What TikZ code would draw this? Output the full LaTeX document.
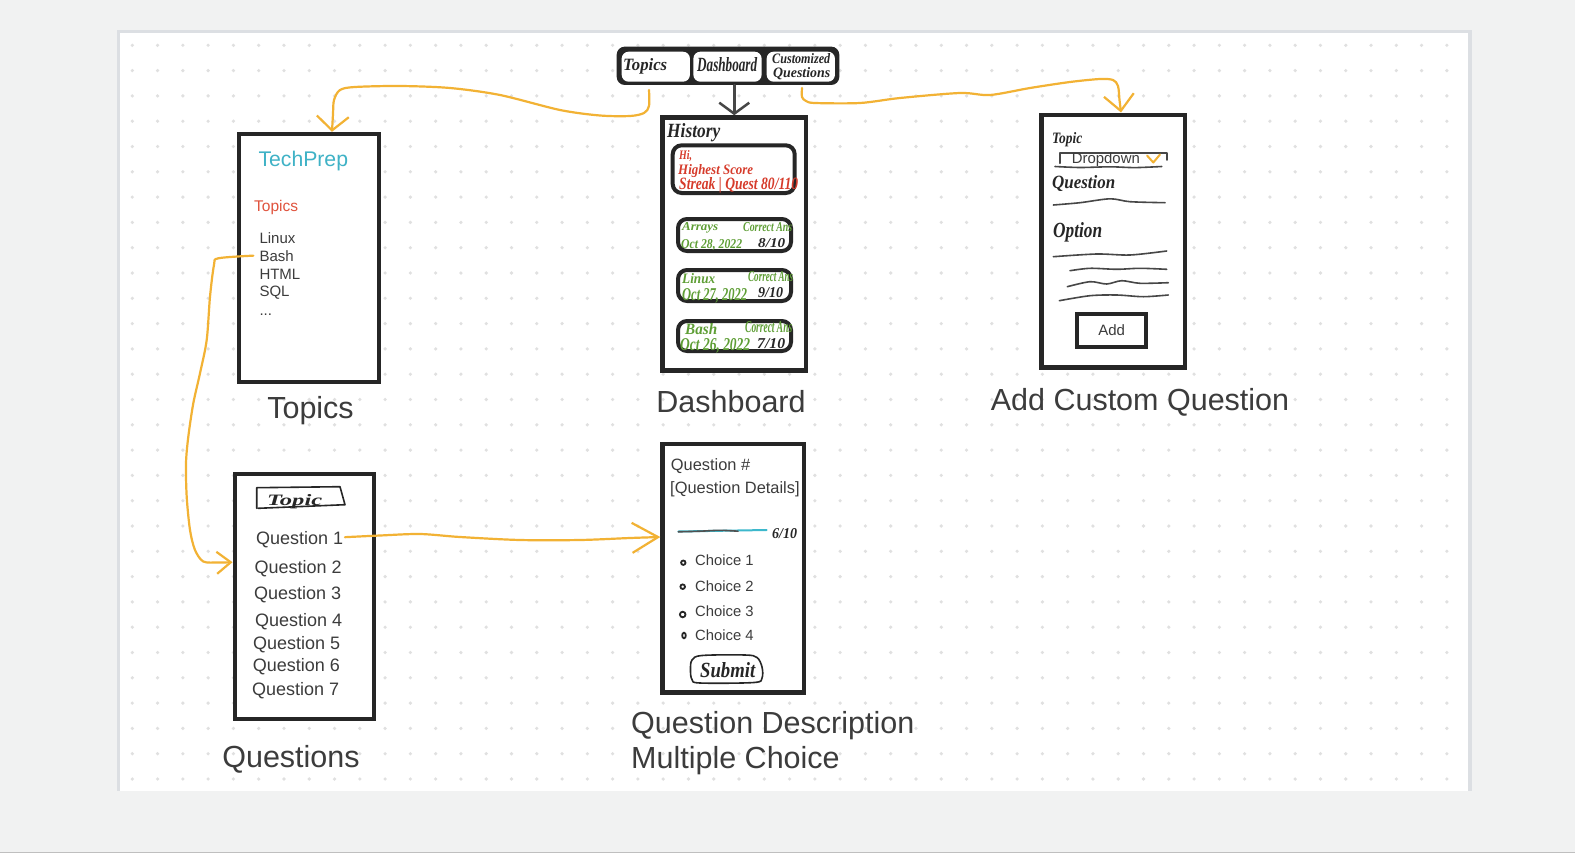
\documentclass[tikz,border=0pt]{standalone}
\usepackage{fontspec}
\usepackage{graphicx}
\setmainfont{Liberation Sans}
\newfontfamily\handfont{Liberation Serif}
\usetikzlibrary{arrows.meta,calc}

\definecolor{canvas}{HTML}{F1F2F2}
\definecolor{boardedge}{HTML}{DCDFE3}
\definecolor{griddot}{HTML}{E0E0E0}
\definecolor{ink}{HTML}{262626}
\definecolor{txt}{HTML}{3C3C3C}
\definecolor{flow}{RGB}{242,178,52}
\definecolor{brand}{HTML}{3FB2C6}
\definecolor{accent}{HTML}{E0533D}
\definecolor{penred}{HTML}{D63B2B}
\definecolor{pengreen}{HTML}{5E9E35}
\definecolor{penteal}{HTML}{3DB8CC}

% hand lettering squeezed into a given width and cap height
\newcommand\hw[3]{\resizebox{#1bp}{#2bp}{#3}}

\begin{document}
\begin{tikzpicture}[x=1bp,y=-1bp,
  screen/.style={draw=ink,line width=4.5bp,fill=white,inner sep=0pt},
  caption/.style={font=\fontsize{30.5bp}{36bp}\selectfont,text=txt,inner sep=0pt,anchor=base},
  ui/.style={font=\fontsize{#1bp}{#1bp}\selectfont,text=txt,inner sep=0pt,anchor=base west},
  pen/.style={inner sep=0pt,anchor=base west,font=\handfont\bfseries\itshape},
  flowline/.style={draw=flow,line width=2.2bp,line cap=round,line join=round},
  sketch/.style={draw=ink!85,line width=1.6bp,line cap=round,line join=round},
  card/.style={line width=4bp,rounded corners=9bp},
]
\useasboundingbox (0,0) rectangle (1575,853);

% canvas and whiteboard
\fill[canvas] (0,0) rectangle (1575,853);
\fill[white] (118,31) rectangle (1470,790.7);
\draw[boardedge,line width=3.3bp] (118.3,790.7) -- (118.3,31.7) -- (1470,31.7) -- (1470,790.7);
\draw[black!25,line width=1bp] (0,852.5) -- (1575,852.5);
\foreach \i in {0,...,52}
  \foreach \j in {0,...,29}
    \fill[griddot] ({132.3+25.28*\i},{45.3+25.3*\j}) circle (1.8bp);

% ---------- navigation tabs ----------
\node[fill=ink,rounded corners=8bp,inner sep=0pt,minimum width=222.6bp,minimum height=38.3bp] (tabs) at (728,65.8) {};
\node[fill=white,rounded corners=7bp,inner sep=0pt,minimum width=68.3bp,minimum height=30bp] (tabTopics) at (655.8,66.7) {};
\node[fill=white,rounded corners=7bp,inner sep=0pt,minimum width=68.3bp,minimum height=30bp] (tabDash) at (727.5,66.7) {};
\node[fill=white,rounded corners=7bp,inner sep=0pt,minimum width=68.3bp,minimum height=30bp] (tabCustom) at (800.8,66.7) {};
\node[pen,text=ink] (tabTopicsLbl) at (623,70) {\hw{44}{12}{Topics}};
\node[pen,text=ink] (tabDashLbl) at (697,71) {\hw{60}{14}{Dashboard}};
\node[pen,text=ink] (tabCustomLblA) at (772,63.5) {\hw{58}{10}{Customized}};
\node[pen,text=ink] (tabCustomLblB) at (773,77) {\hw{57}{10}{Questions}};

% ---------- screens ----------
\node[screen,minimum width=140bp,minimum height=247.7bp] (topics) at (309,257.9) {};
\node[screen,minimum width=143.5bp,minimum height=253bp] (dash) at (734.25,244) {};
\node[screen,minimum width=143.3bp,minimum height=252.5bp] (add) at (1113.3,241) {};
\node[screen,minimum width=139.4bp,minimum height=245bp] (questions) at (304.5,596.7) {};
\node[screen,minimum width=141.3bp,minimum height=248.3bp] (qd) at (733.2,568.3) {};

% Topics screen
\node[ui=21.2,text=brand] (brandName) at (258.3,166.5) {TechPrep};
\node[ui=15.5,text=accent] (topicsHead) at (254,211.5) {Topics};
\node[ui=15] (tLinux) at (259.3,243.3) {Linux};
\node[ui=15] (tBash) at (259.3,261) {Bash};
\node[ui=15] (tHtml) at (259.3,279) {HTML};
\node[ui=15] (tSql) at (259.3,296.7) {SQL};
\node[ui=15] (tMore) at (259.3,315.7) {...};

% Dashboard screen
\node[pen,text=ink] (histLbl) at (667,137) {\hw{53}{14}{History}};
\draw[card,draw=ink] (672.7,145.3) rectangle (794.7,193);
\node[pen,text=penred] (hiLbl) at (679,159) {\hw{13}{9}{Hi,}};
\node[pen,text=penred] (bestLbl) at (678,174) {\hw{75}{10}{Highest Score}};
\node[pen,text=penred] (streakLbl) at (679,189) {\hw{119}{12}{Streak | Quest 80/110}};

\draw[card,draw=ink] (678,219) rectangle (791,251);
\node[pen,text=pengreen] (h1Topic) at (682,230) {\hw{36}{8}{Arrays}};
\node[pen,text=pengreen] (h1Ans) at (743,231) {\hw{49}{9}{Correct Ans}};
\node[pen,text=pengreen] (h1Date) at (681,248) {\hw{61}{9}{Oct 28, 2022}};
\node[pen,text=ink] (h1Score) at (758,247) {\hw{27}{9}{8/10}};

\draw[card,draw=ink] (678,270) rectangle (791,301);
\node[pen,text=pengreen] (h2Topic) at (682,283) {\hw{33}{10}{Linux}};
\node[pen,text=pengreen] (h2Ans) at (748,281) {\hw{45}{10}{Correct Ans}};
\node[pen,text=pengreen] (h2Date) at (682,300) {\hw{65}{12}{Oct 27, 2022}};
\node[pen,text=ink] (h2Score) at (758,297) {\hw{25}{10}{9/10}};

\draw[card,draw=ink] (678,321) rectangle (791,351);
\node[pen,text=pengreen] (h3Topic) at (685,334) {\hw{32}{11}{Bash}};
\node[pen,text=pengreen] (h3Ans) at (745,332) {\hw{47}{11}{Correct Ans}};
\node[pen,text=pengreen] (h3Date) at (680,350) {\hw{70}{12}{Oct 26, 2022}};
\node[pen,text=ink] (h3Score) at (757,348) {\hw{28}{10}{7/10}};

% Add Custom Question screen
\node[pen,text=ink] (addTopic) at (1052,143) {\hw{30}{11}{Topic}};
\draw[sketch] (1060,163.3) -- (1060,152.7) -- (1166.7,152.7) -- (1166.7,160);
\node[ui=14.9] (dropLbl) at (1071.7,163.3) {Dropdown};
\draw[flow,line width=2bp,line cap=round,line join=round] (1147,155.5) -- (1153.3,162.5) -- (1160,154.5);
\draw[sketch] plot[smooth] coordinates {(1055,166.5) (1080,167.5) (1110,166.8) (1135,167.6) (1161.7,166.5)};
\node[pen,text=ink] (addQuestion) at (1052,188) {\hw{63}{13}{Question}};
\draw[sketch] plot[smooth] coordinates {(1053.3,205) (1080,202.7) (1110,198.8) (1130,201.7) (1165,202.7)};
\node[pen,text=ink] (addOption) at (1053,237) {\hw{49}{15}{Option}};
\draw[sketch] plot[smooth] coordinates {(1053.3,256.7) (1096.7,254) (1130,255) (1166.7,251)};
\draw[sketch] plot[smooth] coordinates {(1070,270.7) (1090,268.3) (1116.7,269.3) (1140,268.3) (1166.7,269.3)};
\draw[sketch] plot[smooth] coordinates {(1067.3,286.7) (1090,281.7) (1106.7,284) (1121.7,280.7) (1140,283.3) (1168.3,282.7)};
\draw[sketch] plot[smooth] coordinates {(1059.3,300.7) (1090,295.7) (1116.7,295) (1143.3,296.7) (1168.3,295)};
\node[draw=ink,line width=4bp,inner sep=0pt,minimum width=69.3bp,minimum height=33.6bp,
      font=\fontsize{15bp}{15bp}\selectfont,text=txt] (addBtn) at (1111.7,330.5) {Add};

% Questions screen
\draw[sketch,draw=ink] (256.7,508.3) -- (256.7,487.7) -- (340,486.7) -- (345,504.7) -- (258.3,508.3);
\node[pen,text=ink] (qTopic) at (267,505) {\hw{55}{11}{Topic}};
\node[ui=18] (q1) at (256,544) {Question 1};
\node[ui=18] (q2) at (254.3,573.3) {Question 2};
\node[ui=18] (q3) at (254,599.3) {Question 3};
\node[ui=18] (q4) at (255,626) {Question 4};
\node[ui=18] (q5) at (253,649) {Question 5};
\node[ui=18] (q6) at (252.7,671.7) {Question 6};
\node[ui=18] (q7) at (252,695) {Question 7};

% Question Description screen
\node[ui=16.4] (qdNum) at (670.7,470) {Question \#};
\node[ui=16.4] (qdDetail) at (670,493.3) {[Question Details]};
\draw[penteal,line width=2bp,line cap=round] (678.3,531.5) -- (766.7,530);
\draw[ink!80,line width=1.6bp,line cap=round] plot[smooth] coordinates {(678.3,531.8) (700,531.2) (720,530.3) (738,531.2)};
\node[pen,text=ink] (qdScore) at (772,538) {\hw{25}{10}{6/10}};
\draw[ink,line width=1.8bp] (683.3,562.7) circle (2.2bp);
\draw[ink,line width=1.8bp] (682.7,586.7) circle (2.3bp);
\draw[ink,line width=1.8bp] (682.7,614.5) circle (2.8bp);
\draw[ink,line width=1.8bp] (684,635.5) ellipse (1.8bp and 2.8bp);
\node[ui=14.8] (c1) at (695,565.7) {Choice 1};
\node[ui=14.8] (c2) at (695,591) {Choice 2};
\node[ui=14.8] (c3) at (695,616.7) {Choice 3};
\node[ui=14.8] (c4) at (695,640.7) {Choice 4};
\draw[sketch,draw=ink] plot[smooth cycle,tension=0.55] coordinates {(692,660) (702,655.5) (745,655) (757,657.5) (762,667) (762,678) (754,682.5) (700,683) (692,679.5) (690.5,670)};
\node[pen,text=ink] (submitLbl) at (700,677) {\hw{55}{15}{Submit}};

% ---------- captions ----------
\node[caption] (capTopics) at (310.5,418) {Topics};
\node[caption] (capDash) at (731,412) {Dashboard};
\node[caption] (capAdd) at (1140,410.5) {Add Custom Question};
\node[caption] (capQuestions) at (291,767) {Questions};
\node[caption,anchor=base west] (capQd1) at (631,733.5) {Question Description};
\node[caption,anchor=base west] (capQd2) at (631,768.5) {Multiple Choice};

% ---------- flows ----------
\draw[ink!85,line width=2.5bp,line cap=round,-{Straight Barb[length=11bp,width=30bp]}]
  (dash.north |- tabs.south) -- (dash.north);

\coordinate (aStart) at ($(tabTopics.south)+(-6.8,8)$);
\coordinate (aEnd) at ($(topics.north)+(23,0)$);
\draw[flowline,-{Straight Barb[length=14bp,width=32bp]}] plot[smooth,tension=0.5] coordinates {
  (aStart) (649,106) (644,113) (630,116) (600,115.5) (560,110) (500,95) (450,88) (400,86)
  (355,87) (340,90) (334,100) (333,114) (aEnd)};

\coordinate (bStart) at ($(tabCustom.south)+(1.2,6)$);
\draw[flowline,-{Straight Barb[length=16bp,width=30bp]}] plot[smooth,tension=0.5] coordinates {
  (bStart) (802,97) (806,101) (815,103) (860,103) (900,98) (960,93) (990,95) (1030,88)
  (1070,82) (1100,79) (1113,80) (1118,86) (1119.5,100) (add.north -| 1121,0)};

\coordinate (cStart) at ($(tBash.west)+(-6,0)$);
\coordinate (cEnd) at ($(questions.west)+(0,-34.5)$);
\draw[flowline,-{Straight Barb[length=14bp,width=22bp]}] plot[smooth,tension=0.5] coordinates {
  (cStart) (218.3,258.3) (214,265) (210,296.7) (206.7,340) (200,373.3) (193.3,403.3)
  (188.3,436.7) (186,463.3) (186.7,496.7) (190,530) (195,550) (203.3,561.5) (218,562.5) (cEnd)};

\coordinate (dStart) at ($(q1.east)+(1.5,-2)$);
\coordinate (dEnd) at ($(qd.west)+(0,-31.3)$);
\draw[flowline,-{Straight Barb[length=26bp,width=30bp]}] plot[smooth,tension=0.5] coordinates {
  (dStart) (380,535.5) (420,534) (460,537) (520,540) (580,540) (630,538) (dEnd)};
\end{tikzpicture}
\end{document}
